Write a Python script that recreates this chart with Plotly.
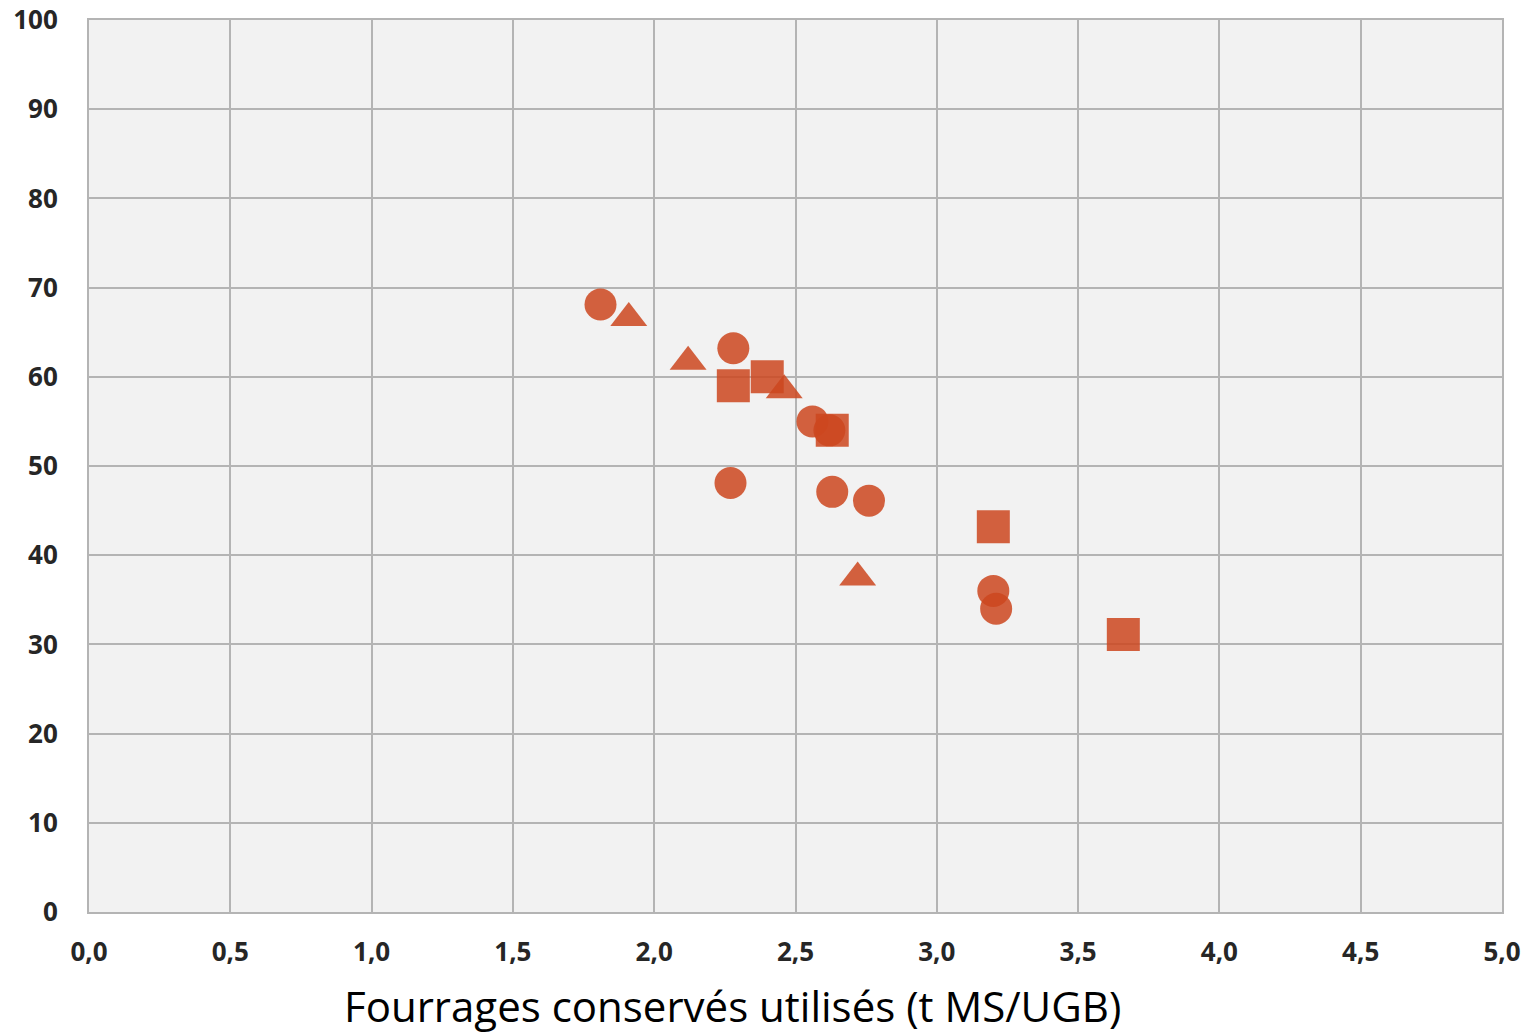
import plotly.graph_objects as go

# Data
circle_x = [1.81, 2.28, 2.27, 2.56, 2.63, 2.76, 2.62, 3.20, 3.21]
circle_y = [68.1, 63.2, 48.1, 55.0, 47.1, 46.1, 54.0, 36.0, 34.0]

triangle_x = [1.91, 2.12, 2.46, 2.72]
triangle_y = [66.6, 61.7, 58.5, 37.5]

square_x = [2.28, 2.40, 2.63, 3.20, 3.66]
square_y = [59.0, 60.0, 54.0, 43.2, 31.1]

x_title = "Fourrages conservés utilisés (t MS/UGB)"

COLOR = "rgba(205,70,30,0.85)"

fig = go.Figure()
fig.add_trace(go.Scatter(x=circle_x, y=circle_y, mode="markers", name="cercles",
                         marker=dict(symbol="circle", size=32, color=COLOR, line=dict(width=0))))
fig.add_trace(go.Scatter(x=triangle_x, y=triangle_y, mode="markers", name="triangles",
                         marker=dict(symbol="triangle-up", size=32, color=COLOR, line=dict(width=0))))
fig.add_trace(go.Scatter(x=square_x, y=square_y, mode="markers", name="carrés",
                         marker=dict(symbol="square", size=33, color=COLOR, line=dict(width=0))))

grid = "#b4b4b4"
tickfont = dict(family="Open Sans", size=26, color="#262626", weight="bold")

fig.update_layout(
    width=1529, height=1033,
    margin=dict(l=89, r=27, t=20, b=121, autoexpand=False),
    paper_bgcolor="white",
    plot_bgcolor="#f2f2f2",
    showlegend=False,
    separators=", ",
    annotations=[dict(text=x_title, xref="paper", yref="paper", x=0.4555, y=0,
                      yshift=-93, xanchor="center", yanchor="middle", showarrow=False,
                      font=dict(family="Open Sans", size=42, color="black"))],
)
fig.update_xaxes(range=[0, 5], dtick=0.5, tick0=0, tickformat=".1f", automargin=False,
                 showgrid=True, gridcolor=grid, gridwidth=2,
                 showline=True, linecolor=grid, linewidth=2, mirror=True,
                 zeroline=False, ticks="", ticklabelstandoff=16, tickfont=tickfont)
fig.update_yaxes(range=[0, 100], dtick=10, tick0=0, automargin=False,
                 showgrid=True, gridcolor=grid, gridwidth=2,
                 showline=True, linecolor=grid, linewidth=2, mirror=True,
                 zeroline=False, ticks="", ticklabelstandoff=24, tickfont=tickfont)

fig.write_html("out.html", config={"displayModeBar": False},
               post_script="document.body.style.margin='0';document.body.style.overflow='hidden';")
